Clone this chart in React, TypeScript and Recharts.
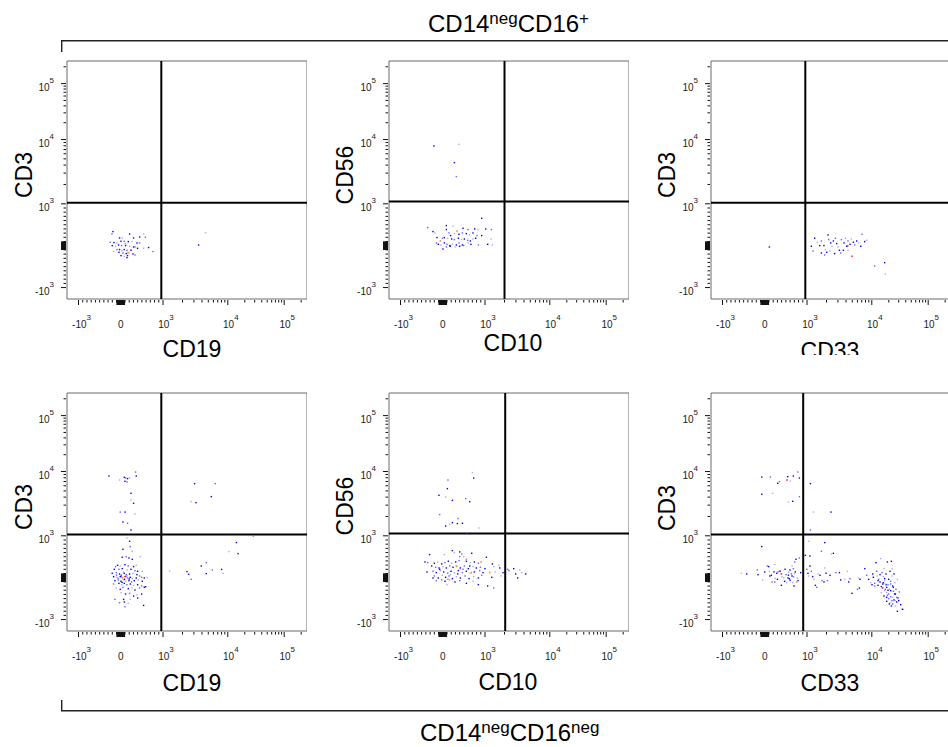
import React from 'react';
import { ScatterChart, Scatter, XAxis, YAxis, ReferenceLine, ReferenceArea } from 'recharts';

type Ev = [number, number];
type HotEv = [number, number, number];

// ---------- tick definitions (raw intensity values) ----------
const MAJOR_TICK_VALUES = [-1000, 0, 1000, 10000, 100000];
const MAJOR_TICK_BASE = ['-10', '0', '10', '10', '10'];
const MAJOR_TICK_EXP = ['3', '', '3', '4', '5'];
const MINOR_TICK_VALUES = [
  -900, -800, -700, -600, -500, -400, -300, -200, -100,
  -90, -80, -70, -60, -50, -40, -30, -20, -10,
  10, 20, 30, 40, 50, 60, 70, 80, 90,
  100, 200, 300, 400, 500, 600, 700, 800, 900,
  2000, 3000, 4000, 5000, 6000, 7000, 8000, 9000,
  20000, 30000, 40000, 50000, 60000, 70000, 80000, 90000, 200000,
];

// ---------- titles ----------
const X_TITLES = ['CD19', 'CD10', 'CD33'];
const Y_TITLES = ['CD3', 'CD56', 'CD3'];
const TOP_GROUP = ['CD14', 'neg', 'CD16', '+'];
const BOTTOM_GROUP = ['CD14', 'neg', 'CD16', 'neg'];

// ---------- gates (quadrant thresholds) ----------
const GATE_X = [960, 2000, 960, 960, 2050, 910];
const GATE_Y = [1040, 1090, 1040, 1050, 1090, 1050];

// ---------- events: [x, y] raw intensities ----------
const p1Events: Ev[] = [
  [-185, 337], [-209, 280], [209, 280], [540, 280], [446, 208], [581, 201], [-28, 184], [36, 184], [303, 184],
  [-249, 81], [-161, 74], [-90, 65], [5, 105], [83, 105], [178, 98], [265, 98], [384, 65], [446, 65],
  [-201, 2], [-123, -14], [-52, 17], [19, 2], [114, 2], [209, -14], [303, -31], [336, -31], [398, -62],
  [540, -62], [659, -45], [-90, -93], [-28, -93], [28, -117], [83, -93], [147, -110], [242, -110],
  [-171, -141], [-43, -158], [52, -174], [130, -189], [194, -174], [289, -198], [763, -141], [5, -237],
  [83, -253], [161, -237], [336, -222], [147, -284], [4540, 313], [3540, 17],
];
const p1Hot: HotEv[] = [[107, 50, 2], [170, -165, 2]];

const p2Events: Ev[] = [
  [922, 655], [-358, 433], [85, 480], [242, 464], [479, 416], [597, 385], [756, 399], [834, 385], [1025, 399],
  [1255, 385], [-232, 337], [-185, 304], [85, 385], [147, 304], [187, 241], [275, 289], [384, 272], [464, 304],
  [559, 289], [638, 256], [716, 304], [811, 241], [922, 241], [1230, 160], [-137, 194], [-9, 177], [38, 194],
  [116, 177], [211, 160], [275, 146], [370, 177], [448, 146], [512, 160], [590, 129], [654, 112], [716, 160],
  [780, 177], [-152, 65], [-104, 33], [-43, 17], [38, 65], [100, 33], [164, 2], [228, 33], [322, 17], [384, 65],
  [464, 17], [607, 65], [668, 33], [844, 17], [1100, 33], [1300, 17], [5, -79], [85, -31], [180, -14], [289, -31],
  [400, -14], [495, 2], [-209, 7920], [384, 8420], [275, 4370], [322, 2650],
];
const p2Hot: HotEv[] = [[337, 351, 2], [-57, 112, 2]];

const p3Events: Ev[] = [
  [1169, -14], [1238, -126], [1315, 177], [1446, 81], [1570, 2], [1667, 112], [1827, 2], [1921, -93], [2108, 256],
  [2161, 146], [2321, 65], [2432, -14], [2553, 112], [2742, 177], [2872, 50], [3007, -31], [3162, -110],
  [3395, 146], [3724, 65], [3915, 177], [4102, -14], [4296, 112], [4613, 33], [4842, 160], [5200, 81],
  [5449, 17], [5848, 112], [6279, 65], [6741, -14], [7063, 272], [7770, 98], [8340, 129], [1667, -174],
  [1875, -222], [2013, -158], [2265, -126], [2673, -189], [3311, -174], [3647, -110], [4296, -110],
  [109, -31], [11250, -485], [16900, -404], [17400, -676],
];
const p3Hot: HotEv[] = [[4943, -253, 3], [4250, -7, 3]];

const p4Events: Ev[] = [
  [-280, 8510], [351, 9820], [367, 8510], [-28, 7380], [83, 8130], [114, 7930], [161, 7760], [209, 7930],
  [100, 7050], [147, 6870], [242, 4580], [242, 3600], [303, 3200], [-12, 2340], [100, 2340], [336, 2180],
  [52, 1640], [161, 1565], [242, 1230],
  [146, 949], [209, 869], [225, 742], [51, 678], [272, 630], [35, 487], [130, 503], [272, 439], [462, 503],
  [193, 471], [-123, 264], [-75, 296], [-12, 280], [99, 311], [178, 280], [304, 264], [367, 296], [-154, 200],
  [-44, 200], [35, 216], [146, 184], [241, 200], [336, 168], [399, 152], [509, 152], [-202, 104], [-107, 120],
  [-28, 88], [20, 72], [83, 104], [130, 72], [209, 88], [288, 104], [383, 72], [446, 41], [-170, 25], [-91, 9],
  [-12, 25], [162, -7], [225, 9], [272, -23], [367, -7], [494, 9], [557, -7], [620, 9], [-138, -71], [-59, -55],
  [4, -87], [67, -55], [193, -71], [257, -103], [320, -71], [415, -55], [509, -87], [-170, -151], [-44, -135],
  [20, -167], [83, -135], [146, -167], [225, -151], [304, -183], [399, -167], [494, -199], [588, -215],
  [-107, -246], [-12, -278], [51, -230], [178, -262], [272, -246], [336, -294], [446, -246], [557, -230],
  [4, -358], [114, -390], [209, -374], [304, -438], [383, -406], [494, -390], [-138, -517], [67, -517],
  [225, -517], [399, -486], [-28, -597], [83, -581], [178, -613], [541, -661], [99, -693],
  [10, 40], [40, -20], [120, 30], [-60, -20], [90, -40], [150, 50], [30, -110], [-100, 60], [200, -30], [60, 130],
  [3076, 6490], [6410, 6490], [5560, 4070], [2700, 3400], [3230, 3280], [28300, 995], [14200, 838],
  [10500, 623], [15200, 575], [4660, 360], [3900, 279], [1264, 160], [2344, 146], [5770, 184], [8020, 197],
  [8430, 105], [4660, 98], [2730, -38], [2485, 81],
];
const p4Hot: HotEv[] = [[51, -7, 1], [99, 25, 3], [114, -87, 1], [30, 10, 2]];

const p5Events: Ev[] = [
  [-90, 4270], [123, 7380], [109, 5420], [69, 4010], [228, 3560], [543, 3790], [638, 3400], [702, 9610],
  [732, 7930], [-73, 2140], [69, 1420], [164, 1510], [228, 1600], [360, 1850], [465, 1565], [858, 1323],
  [346, 1550], [574, 1055],
  [227, 647], [275, 599], [401, 615], [448, 567], [685, 583], [38, 551], [-310, 551], [401, 503], [1051, 487],
  [496, 503], [-421, 376], [-357, 360], [-199, 344], [-120, 376], [-26, 328], [53, 360], [132, 392], [211, 344],
  [306, 376], [385, 408], [559, 392], [654, 360], [749, 376], [843, 344], [1300, 328], [1644, 296],
  [-263, 280], [-168, 248], [-89, 232], [6, 264], [85, 232], [164, 280], [243, 248], [338, 264], [417, 232],
  [512, 280], [606, 216], [717, 264], [796, 232], [891, 248], [1000, 216], [1362, 264], [1686, 232], [2240, 200],
  [2772, 216], [3430, 185], [-373, 137], [-231, 153], [-152, 121], [-57, 169], [22, 137], [117, 105], [196, 153],
  [275, 121], [369, 169], [464, 121], [559, 153], [654, 105], [749, 137], [875, 169], [954, 121], [1426, 137],
  [1897, 121], [2345, 169], [2977, 89], [3683, 121], [4244, 89], [-199, 41], [-105, -7], [-10, 57], [69, 9],
  [148, 41], [227, -23], [322, 25], [417, -7], [527, 41], [622, -23], [733, 25], [843, -7], [922, 57], [1268, 9],
  [1766, 41], [3197, -7], [-152, -70], [53, -86], [164, -54], [290, -102], [401, -70], [559, -134], [717, -86],
  [1100, -198], [1362, -246], [843, -166], [101, -166], [-73, 200], [480, 200], [638, 280], [180, 73], [354, 89],
  [-26, -54], [-231, -7],
];
const p5Hot: HotEv[] = [[559, 439, 2], [322, 279, 2], [678, 122, 2], [1182, 122, 2], [123, -38, 2], [910, 375, 2]];

const p6Events: Ev[] = [
  [-72, 8200], [133, 8200], [-72, 4420], [188, 4580], [306, 6560], [347, 6970], [543, 8330], [607, 7120],
  [678, 8510], [780, 9820], [820, 7930], [560, 3350], [661, 3440], [820, 4070], [1130, 6490], [1255, 2340],
  [2345, 2340], [1130, 1230], [-72, 742],
  [-554, 105], [-427, 89], [-175, 184], [-159, 73], [-49, -54], [0, 137], [62, 280], [93, 264], [109, 152],
  [156, 57], [172, -102], [219, 137], [235, 312], [283, 105], [314, 137], [362, 152], [409, 25], [472, -86],
  [504, 73], [551, -7], [567, 137], [598, 184], [630, 89], [646, 41], [661, -118], [693, -198], [709, 375],
  [724, 137], [772, -7], [788, -70], [819, 471], [851, 121], [646, 280], [740, 439], [677, 216], [582, -23],
  [519, -118], [393, -182], [235, -102],
  [300, -40], [450, 0], [560, 60], [680, 20], [120, 40], [250, -20], [600, -60], [350, 160], [480, 200], [700, 100],
  [961, 534], [993, 200], [1036, 105], [1062, 41], [1112, 519], [1169, 152], [1224, 25], [1282, -39],
  [1348, -182], [1412, -230], [1112, 280], [1479, 89], [1588, 57], [1703, -70], [1828, -102], [1875, 232],
  [1965, 105], [2065, -70], [2265, 57], [2380, 566], [2555, 582], [2805, 121], [3162, 121], [3820, -39],
  [4400, -102], [4610, -23], [4945, -373], [4200, 152], [3310, -54], [6000, -277], [6440, -246], [6280, -7],
  [6580, -39], [1667, 630], [1875, 837], [1062, 869],
  [7800, 216], [8320, 57], [8930, -39], [9590, -118], [10380, 89], [11250, -134], [11880, 359], [12560, 41],
  [12890, -182], [13250, -39], [13990, -102], [14390, 455], [14790, -214], [15170, 121], [16030, -118],
  [16440, 216], [16930, -23], [17400, -277], [17870, 89], [18370, -357], [18900, 375], [19380, -166],
  [19950, -39], [20500, -277], [21040, 152], [21640, -453], [22270, 391], [22820, 41], [23480, -198],
  [24150, -325], [24760, -532], [25480, -118], [26200, -389], [26840, -277], [27620, -580], [28420, -39],
  [29150, -484], [30880, -341], [32540, -644], [33500, -755], [35310, -755], [19950, -500], [18370, -564],
  [21040, -596], [22270, -675], [18900, -421], [16440, -437], [14790, -357], [12890, -70], [11250, -198],
  [10080, -166], [22820, 216], [24760, 89], [21640, -86], [17870, -166], [16030, 25], [13990, 73], [12220, 152],
  [10670, 9], [26200, -675], [28420, -803], [23480, -628],
  [15600, -150], [16930, -310], [18370, -230], [19950, -389], [21640, -310], [23480, -469], [25480, -389],
  [27620, -469], [30000, -548], [16930, -70], [18370, -469], [21640, -150], [24150, -230], [26200, -548],
  [20500, -628], [22820, -548], [19380, -300], [17400, -150],
];
const p6Hot: HotEv[] = [[393, 89, 3], [15600, -246, 3], [526, 7380, 3], [756, -102, 2]];

// ---------- display transform (biexponential-like) ----------
function T(v: number): number {
  if (v <= 1000) return 0.224 + v * 0.000176;
  if (v <= 10000) return 0.4 + 0.27 * Math.log10(v / 1000);
  return 0.67 + 0.235 * Math.log10(v / 10000);
}

type TickInfo = { major: boolean; base: string; exp: string; near: boolean };
const TICK_INFO = new Map<string, TickInfo>();
MAJOR_TICK_VALUES.forEach((v, i) =>
  TICK_INFO.set(T(v).toFixed(6), { major: true, base: MAJOR_TICK_BASE[i], exp: MAJOR_TICK_EXP[i], near: false })
);
MINOR_TICK_VALUES.forEach((v) =>
  TICK_INFO.set(T(v).toFixed(6), { major: false, base: '', exp: '', near: Math.abs(v) < 100 })
);
const AXIS_TICKS = [...MAJOR_TICK_VALUES, ...MINOR_TICK_VALUES].map(T).sort((a, b) => a - b);

const FONT = '"Liberation Sans", Arial, Helvetica, sans-serif';
const PLOT_W = 240;
const PLOT_H = 238;
const Y_AXIS_W = 66;
const TOP_PAD = 10;
const X_AXIS_H = 60;
const PLOT_BOTTOM = TOP_PAD + PLOT_H;

const DOT_COLORS = ['#0000ff', '#6464ff', '#0000e6', '#aaaaff'];
const HOT_COLORS = ['#0000ff', '#e8d430', '#ff8a3a', '#ff3030'];

const XTick = (props: any) => {
  const { x, payload } = props;
  const info = TICK_INFO.get(Number(payload.value).toFixed(6));
  if (!info) return null;
  const len = info.major || info.near ? 5 : 2.5;
  return (
    <g>
      <line x1={x} x2={x} y1={PLOT_BOTTOM + 1} y2={PLOT_BOTTOM + 1 + len} stroke="#111" strokeWidth={1} />
      {info.major && (
        <text
          x={info.exp ? x + 3 : x}
          y={PLOT_BOTTOM + 29}
          textAnchor="middle"
          fontSize={10}
          fill="#222"
          fontFamily={FONT}
        >
          {info.base}
          {info.exp && (
            <tspan dy={-8} fontSize={8}>
              {info.exp}
            </tspan>
          )}
        </text>
      )}
    </g>
  );
};

const YTick = (props: any) => {
  const { y, payload } = props;
  const info = TICK_INFO.get(Number(payload.value).toFixed(6));
  if (!info) return null;
  const len = info.major || info.near ? 5 : 2.5;
  return (
    <g>
      <line x1={Y_AXIS_W - 1} x2={Y_AXIS_W - 1 - len} y1={y} y2={y} stroke="#111" strokeWidth={1} />
      {info.major && info.exp && (
        <text x={Y_AXIS_W - 13} y={y + 7} textAnchor="end" fontSize={10} fill="#222" fontFamily={FONT}>
          {info.base}
          <tspan dy={-8} fontSize={8}>
            {info.exp}
          </tspan>
        </text>
      )}
    </g>
  );
};

const Dot = (p: any) => (
  <rect x={p.cx - 0.7} y={p.cy - 0.7} width={1.4} height={1.4} fill={DOT_COLORS[p.payload.k]} />
);
const HotDot = (p: any) => (
  <rect x={p.cx - 0.8} y={p.cy - 0.8} width={1.6} height={1.6} fill={HOT_COLORS[p.payload.level]} />
);

type PanelProps = {
  boxLeft: number;
  boxTop: number;
  events: Ev[];
  hot: HotEv[];
  gateX: number;
  gateY: number;
};

function Panel({ boxLeft, boxTop, events, hot, gateX, gateY }: PanelProps) {
  const data = events.map(([x, y], i) => ({ x: T(x), y: T(y), k: i % 4 }));
  const hotData = hot.map(([x, y, level]) => ({ x: T(x), y: T(y), level }));
  return (
    <div style={{ position: 'absolute', left: boxLeft - Y_AXIS_W, top: boxTop - TOP_PAD }}>
      <ScatterChart
        width={Y_AXIS_W + PLOT_W}
        height={TOP_PAD + PLOT_H + X_AXIS_H}
        margin={{ top: TOP_PAD, right: 0, bottom: 0, left: 0 }}
      >
        <XAxis
          type="number"
          dataKey="x"
          domain={[0, 1]}
          ticks={AXIS_TICKS}
          interval={0}
          tick={XTick}
          tickLine={false}
          axisLine={false}
          height={X_AXIS_H}
          allowDataOverflow
        />
        <YAxis
          type="number"
          dataKey="y"
          domain={[0, 1]}
          ticks={AXIS_TICKS}
          interval={0}
          tick={YTick}
          tickLine={false}
          axisLine={false}
          width={Y_AXIS_W}
          allowDataOverflow
        />
        <ReferenceArea x1={0} x2={1} y1={0} y2={1} fill="none" fillOpacity={0} stroke="#6b6b6b" strokeWidth={1} ifOverflow="visible" />
        <Scatter data={data} shape={Dot} isAnimationActive={false} />
        <Scatter data={hotData} shape={HotDot} isAnimationActive={false} />
        <ReferenceLine x={T(gateX)} stroke="#000" strokeWidth={2} />
        <ReferenceLine y={T(gateY)} stroke="#000" strokeWidth={2} />
      </ScatterChart>
    </div>
  );
}

const BOX_LEFTS = [66.5, 389.3, 711.3];
const BOX_TOPS = [61, 393];
const PANEL_EVENTS = [p1Events, p2Events, p3Events, p4Events, p5Events, p6Events];
const PANEL_HOT = [p1Hot, p2Hot, p3Hot, p4Hot, p5Hot, p6Hot];

const X_TITLE_POS = [
  [192, 357], [513, 351], [830, 359],
  [192, 691], [508, 690], [830, 691],
];
const Y_TITLE_POS = [
  [31.7, 175], [352.7, 175], [674.7, 175],
  [31.7, 507], [353, 506], [674.7, 508],
];

function GroupLabel({ x, y, parts }: { x: number; y: number; parts: string[] }) {
  return (
    <text x={x} y={y} fontSize={24} fill="#000" fontFamily={FONT}>
      {parts[0]}
      <tspan dy={-8} fontSize={17}>{parts[1]}</tspan>
      <tspan dy={8} fontSize={24}>{parts[2]}</tspan>
      <tspan dy={-8} fontSize={17}>{parts[3]}</tspan>
    </text>
  );
}

export default function App() {
  return (
    <div
      style={{
        position: 'absolute',
        left: 0,
        top: 0,
        width: 948,
        height: 747,
        overflow: 'hidden',
        background: '#fff',
        fontFamily: FONT,
      }}
    >
      {PANEL_EVENTS.map((ev, i) => (
        <Panel
          key={i}
          boxLeft={BOX_LEFTS[i % 3]}
          boxTop={BOX_TOPS[Math.floor(i / 3)]}
          events={ev}
          hot={PANEL_HOT[i]}
          gateX={GATE_X[i]}
          gateY={GATE_Y[i]}
        />
      ))}
      <svg
        width={948}
        height={747}
        style={{ position: 'absolute', left: 0, top: 0, pointerEvents: 'none' }}
      >
        <defs>
          <clipPath id="clipCD33">
            <rect x={700} y={0} width={248} height={355} />
          </clipPath>
        </defs>
        <path d="M61.7,52 V40.7 H948" fill="none" stroke="#222" strokeWidth={1.4} />
        <path d="M61.7,700 V710.7 H948" fill="none" stroke="#222" strokeWidth={1.4} />
        <GroupLabel x={428} y={31.7} parts={TOP_GROUP} />
        <GroupLabel x={420} y={741} parts={BOTTOM_GROUP} />
        {X_TITLE_POS.map(([x, y], i) => (
          <text
            key={'xt' + i}
            x={x}
            y={y}
            textAnchor="middle"
            fontSize={23}
            fill="#000"
            fontFamily={FONT}
            clipPath={i === 2 ? 'url(#clipCD33)' : undefined}
          >
            {X_TITLES[i % 3]}
          </text>
        ))}
        {Y_TITLE_POS.map(([x, y], i) => (
          <text
            key={'yt' + i}
            transform={`translate(${x},${y}) rotate(-90)`}
            textAnchor="middle"
            fontSize={23}
            fill="#000"
            fontFamily={FONT}
          >
            {Y_TITLES[i % 3]}
          </text>
        ))}
      </svg>
    </div>
  );
}
